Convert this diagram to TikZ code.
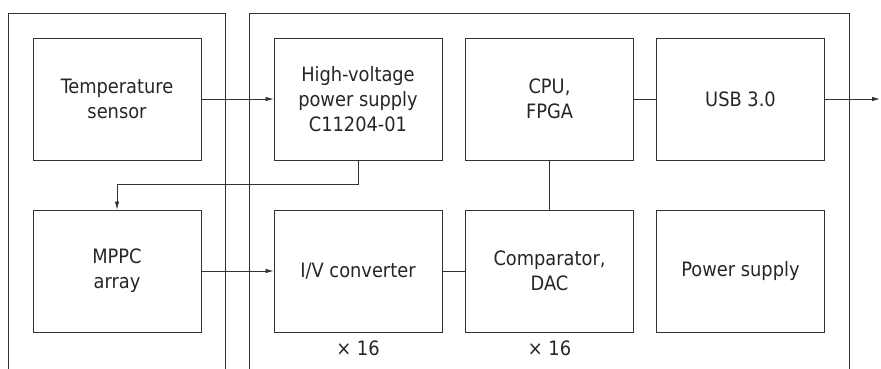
\documentclass[tikz,border=0pt]{standalone}
\usepackage{fontspec}
\setmainfont{DejaVu Sans Condensed}
\usetikzlibrary{positioning,arrows.meta}
\definecolor{linegray}{RGB}{50,50,50}

\begin{document}
\begin{tikzpicture}[
    x=1pt, y=-1pt,
    block/.style={rectangle, draw=linegray, line width=0.9pt, minimum width=168pt, minimum height=122pt, align=center, inner sep=0pt, font=\fontsize{19.8}{25}\selectfont, text=black!85},
    conn/.style={draw=linegray, line width=0.8pt},
    arr/.style={conn, -{Latex[length=8pt,width=4.5pt]}},
    frame/.style={draw=linegray, line width=0.9pt},
    mult/.style={font=\fontsize{19.8}{25}\selectfont, text=black!85, inner sep=0pt}
]
\useasboundingbox (0,0) rectangle (881,369);

% housings (open at the bottom)
\draw[frame] (8.5,369) |- (225,13) -- (225,369);
\draw[frame] (249,369) |- (849,13) -- (849,369);

% top row
\node[block] (temp) at (117,99) {Temperature\\sensor};
\node[block] (hv)   at (358,99) {High-voltage\\power supply\\C11204-01};
\node[block] (cpu)  at (549.5,99) {CPU,\\FPGA};
\node[block] (usb)  at (740.5,99) {USB 3.0};

% bottom row
\node[block] (mppc) at (117,271) {MPPC\\array};
\node[block] (iv)   at (358,271) {I/V converter};
\node[block] (comp) at (549.5,271) {Comparator,\\DAC};
\node[block] (psu)  at (740.5,271) {Power supply};

% channel counts
\node[mult, below=8pt of iv]   (ivn)   {× 16};
\node[mult, below=8pt of comp] (compn) {× 16};

% output
\coordinate (out) at (880,99);

% connections
\draw[arr] (temp) -- (hv);
\draw[arr] (hv.south) -- ++(0,24) -| (mppc.north);
\draw[arr] (mppc) -- (iv);
\draw[conn] (iv) -- (comp);
\draw[conn] (comp) -- (cpu);
\draw[conn] (cpu) -- (usb);
\draw[arr] (usb) -- (out);
\end{tikzpicture}
\end{document}
